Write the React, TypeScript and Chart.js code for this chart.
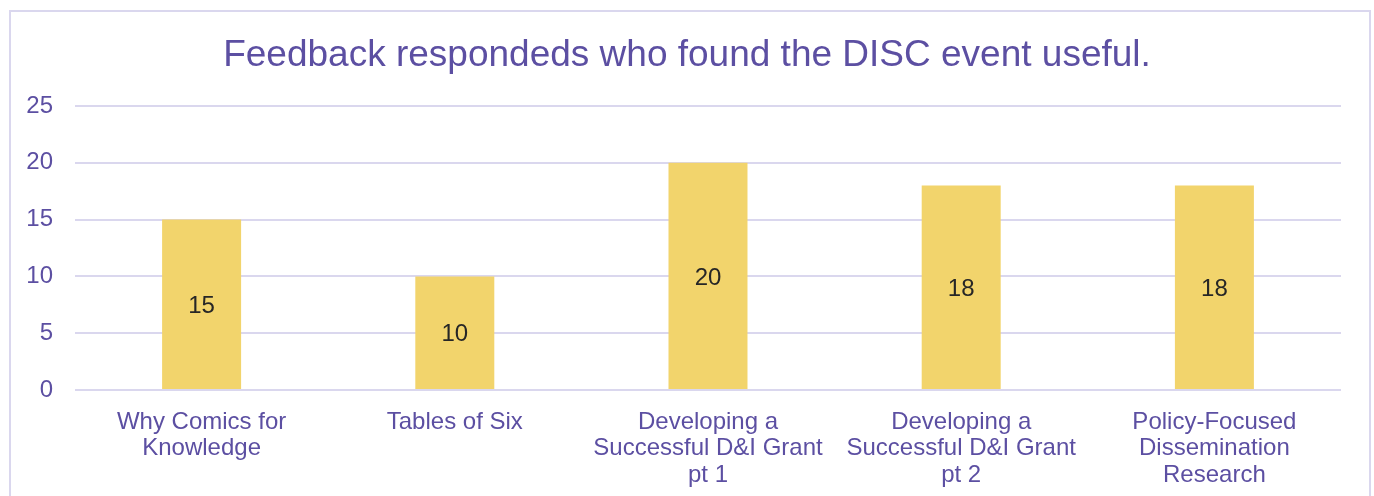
import React, { useEffect, useRef } from "react";
import { Chart, registerables } from "chart.js";

Chart.register(...registerables);

const categories: string[][] = [
  ["Why Comics for", "Knowledge"],
  ["Tables of Six"],
  ["Developing a", "Successful D&I Grant", "pt 1"],
  ["Developing a", "Successful D&I Grant", "pt 2"],
  ["Policy-Focused", "Dissemination", "Research"],
];
const values: number[] = [15, 10, 20, 18, 18];
const yTicks: number[] = [0, 5, 10, 15, 20, 25];
const titleText = "Feedback respondeds who found the DISC event useful.";

const PURPLE = "#5C4FA2";
const GRID = "#DAD7EE";
const BAR = "#F2D46C";
const FONT = "'Liberation Sans', Arial, sans-serif";

export default function App() {
  const ref = useRef<HTMLCanvasElement | null>(null);
  useEffect(() => {
    if (!ref.current) return;
    const borderPlugin = {
      id: "borderBox",
      beforeDraw(chart: any) {
        const ctx = chart.ctx;
        ctx.save();
        ctx.fillStyle = "#ffffff";
        ctx.fillRect(0, 0, chart.width, chart.height);
        ctx.strokeStyle = GRID;
        ctx.lineWidth = 2;
        ctx.strokeRect(10, 11, 1360, 600);
        ctx.restore();
      },
    };
    const labelPlugin = {
      id: "valueLabels",
      afterDatasetsDraw(chart: any) {
        const ctx = chart.ctx;
        const meta = chart.getDatasetMeta(0);
        ctx.save();
        ctx.font = `24px ${FONT}`;
        ctx.fillStyle = "#262626";
        ctx.textAlign = "center";
        ctx.textBaseline = "middle";
        meta.data.forEach((bar: any, i: number) => {
          const { x, y, base } = bar.getProps(["x", "y", "base"], true);
          ctx.fillText(String(values[i]), x, (y + base) / 2 + 2);
        });
        ctx.restore();
      },
    };
    const chart = new Chart(ref.current, {
      type: "bar",
      data: {
        labels: categories,
        datasets: [
          {
            data: values,
            backgroundColor: BAR,
            categoryPercentage: 1,
            barPercentage: 0.312,
          },
        ],
      },
      options: {
        animation: false,
        responsive: false,
        layout: { padding: { top: 10, left: 0, right: 0, bottom: 0 } },
        plugins: {
          legend: { display: false },
          tooltip: { enabled: false },
          title: {
            display: true,
            text: titleText,
            color: PURPLE,
            font: { family: FONT, size: 37, weight: "normal", lineHeight: 1.2 },
            padding: { top: 24, bottom: 27.6 },
          },
        },
        scales: {
          x: {
            grid: { display: false },
            border: { display: false },
            ticks: {
              color: PURPLE,
              font: { family: FONT, size: 24, lineHeight: 1.1 },
              padding: 11,
              maxRotation: 0,
              autoSkip: false,
            },
            afterFit(s: any) {
              s.height = 106;
            },
          },
          y: {
            min: 0,
            max: 25,
            afterBuildTicks(s: any) {
              s.ticks = yTicks.map((v) => ({ value: v }));
            },
            grid: { color: GRID, lineWidth: 2, drawTicks: false },
            border: { display: false },
            ticks: {
              color: PURPLE,
              font: { family: FONT, size: 24 },
              padding: 22,
            },
            afterFit(s: any) {
              s.width = 75;
            },
          },
          yRight: {
            position: "right",
            display: true,
            min: 0,
            max: 25,
            grid: { display: false },
            border: { display: false },
            ticks: { display: false },
            afterFit(s: any) {
              s.width = 33;
            },
          },
        },
      },
      plugins: [borderPlugin, labelPlugin],
    });
    return () => chart.destroy();
  }, []);
  return (
    <div style={{ position: "fixed", left: 0, top: 0, width: 1374, height: 496 }}>
      <canvas ref={ref} width={1374} height={496} />
    </div>
  );
}
